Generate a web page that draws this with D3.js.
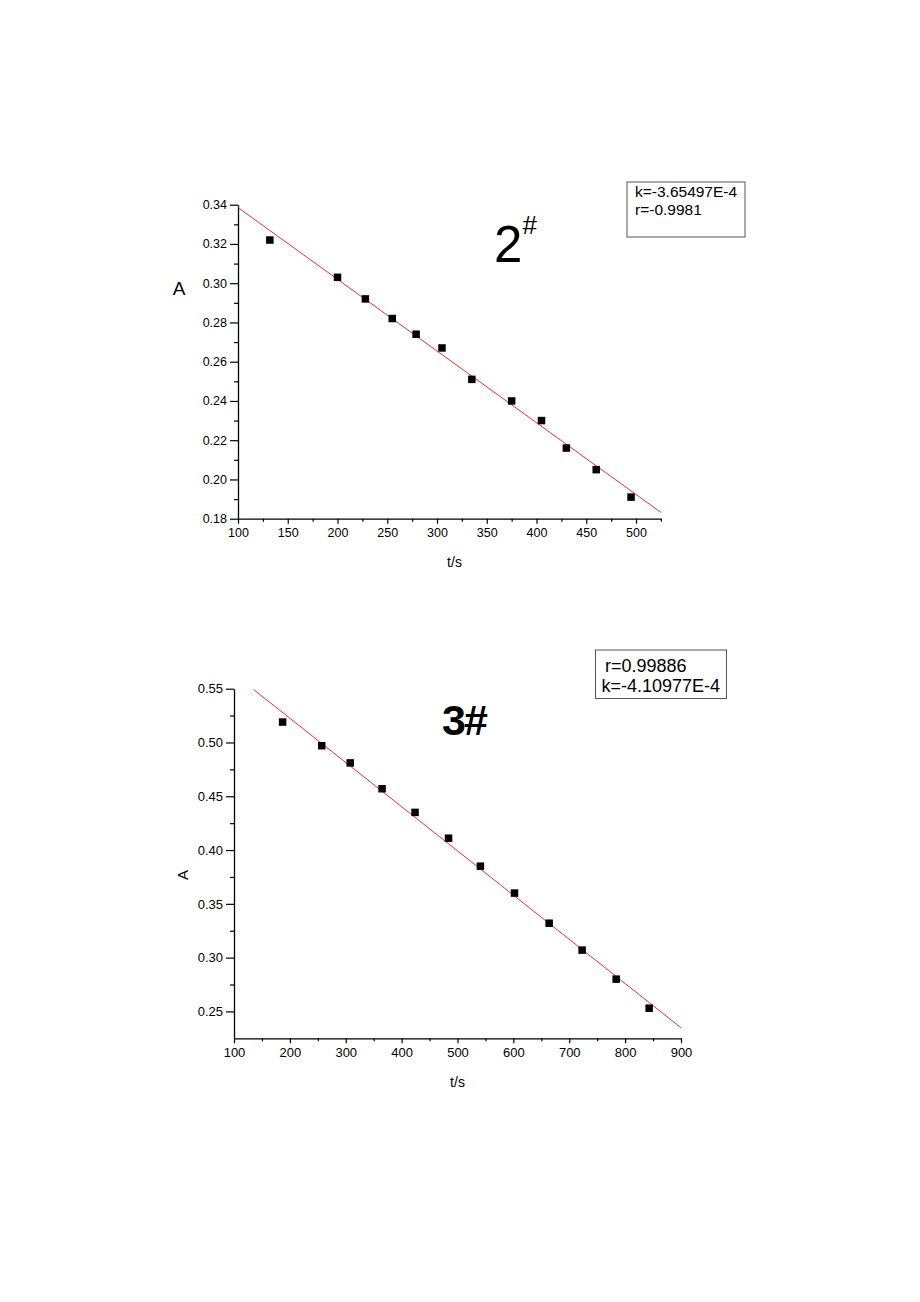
<!DOCTYPE html>
<html>
<head>
<meta charset="utf-8">
<script src="https://cdn.jsdelivr.net/npm/d3@7"></script>
<style>
  html, body { margin: 0; padding: 0; background: #fff; }
  svg { display: block; }
  text { font-family: "Liberation Sans", Arial, Helvetica, sans-serif; fill: #000; }
</style>
</head>
<body>
<svg id="chart" width="920" height="1302"></svg>
<script>
// ---------- Data: chart 2# ----------
const t2 = [132, 200, 228, 255, 279, 305, 335, 375, 405, 430, 460, 495];
const A2 = [0.322, 0.303, 0.292, 0.282, 0.274, 0.267, 0.251, 0.240, 0.230, 0.216, 0.205, 0.191];
const fit2 = { k: -3.65497e-4, b: 0.3751, from: 100, to: 525 };
const legend2 = ["k=-3.65497E-4", "r=-0.9981"];
const xTicks2 = [100, 150, 200, 250, 300, 350, 400, 450, 500];
const yTicks2 = [0.18, 0.20, 0.22, 0.24, 0.26, 0.28, 0.30, 0.32, 0.34];

// ---------- Data: chart 3# ----------
const t3 = [187, 257, 308, 365, 424, 484, 541, 602, 664, 723, 784, 843];
const A3 = [0.519, 0.497, 0.481, 0.457, 0.435, 0.411, 0.385, 0.360, 0.332, 0.307, 0.280, 0.253];
const fit3 = { k: -4.10977e-4, b: 0.6047, from: 135, to: 900 };
const legend3 = ["r=0.99886", "k=-4.10977E-4"];
const xTicks3 = [100, 200, 300, 400, 500, 600, 700, 800, 900];
const yTicks3 = [0.25, 0.30, 0.35, 0.40, 0.45, 0.50, 0.55];

const svg = d3.select("#chart");

function drawPanel(cfg) {
  const g = svg.append("g");
  const x = d3.scaleLinear().domain(cfg.xDomain).range(cfg.xRange);
  const y = d3.scaleLinear().domain(cfg.yDomain).range(cfg.yRange);
  const x0 = cfg.xRange[0], y0 = cfg.yRange[0];

  // minor ticks
  g.append("g").attr("transform", `translate(${x0},0)`)
    .call(d3.axisLeft(y).tickValues(cfg.yMinor).tickSize(4).tickSizeOuter(0).tickFormat(""))
    .call(s => s.select(".domain").remove())
    .selectAll("line").attr("stroke", "#000").attr("stroke-width", 1.2);
  g.append("g").attr("transform", `translate(0,${y0})`)
    .call(d3.axisBottom(x).tickValues(cfg.xMinor).tickSize(3).tickSizeOuter(0).tickFormat(""))
    .call(s => s.select(".domain").remove())
    .selectAll("line").attr("stroke", "#000").attr("stroke-width", 1.2);

  // major axes
  const ya = g.append("g").attr("transform", `translate(${x0},0)`)
    .call(d3.axisLeft(y).tickValues(cfg.yTicks).tickSize(8).tickSizeOuter(0)
      .tickPadding(3).tickFormat(d3.format(".2f")));
  ya.select(".domain").attr("stroke", "#000").attr("stroke-width", 1.3);
  ya.selectAll(".tick line").attr("stroke", "#000").attr("stroke-width", 1.2);
  ya.selectAll(".tick text").attr("font-size", cfg.tickFont)
    .style("font-family", '"Liberation Sans", Arial, sans-serif').attr("fill", "#000");

  const xa = g.append("g").attr("transform", `translate(0,${y0})`)
    .call(d3.axisBottom(x).tickValues(cfg.xTicks).tickSize(5).tickSizeOuter(0)
      .tickPadding(4).tickFormat(d3.format("d")));
  xa.select(".domain").attr("stroke", "#000").attr("stroke-width", 1.3);
  xa.selectAll(".tick line").attr("stroke", "#000").attr("stroke-width", 1.2);
  xa.selectAll(".tick text").attr("font-size", cfg.tickFont)
    .style("font-family", '"Liberation Sans", Arial, sans-serif').attr("fill", "#000");

  // fit line
  const f = cfg.fit;
  g.append("line")
    .attr("x1", x(f.from)).attr("y1", y(f.k * f.from + f.b))
    .attr("x2", x(f.to)).attr("y2", y(f.k * f.to + f.b))
    .attr("stroke", "#ff2a2a").attr("stroke-width", 1);

  // points
  const s = cfg.marker;
  g.selectAll("rect.pt").data(cfg.t.map((t, i) => [t, cfg.A[i]]))
    .enter().append("rect").attr("class", "pt")
    .attr("x", d => x(d[0]) - s / 2).attr("y", d => y(d[1]) - s / 2)
    .attr("width", s).attr("height", s).attr("fill", "#000");

  // axis titles
  g.append("text").attr("x", cfg.xTitle[0]).attr("y", cfg.xTitle[1])
    .attr("text-anchor", "middle").attr("font-size", 14).text("t/s");
  const yt = g.append("text").attr("text-anchor", "middle")
    .attr("font-size", cfg.yTitleFont).text("A");
  if (cfg.yTitleRotate) {
    yt.attr("transform", `translate(${cfg.yTitle[0]},${cfg.yTitle[1]}) rotate(-90)`);
  } else {
    yt.attr("x", cfg.yTitle[0]).attr("y", cfg.yTitle[1]);
  }

  // legend box
  const lb = cfg.legendBox;
  g.append("rect").attr("x", lb[0]).attr("y", lb[1]).attr("width", lb[2]).attr("height", lb[3])
    .attr("fill", "#fff").attr("stroke", "#555").attr("stroke-width", 1);
  cfg.legend.forEach((txt, i) => {
    g.append("text").attr("x", cfg.legendText[i][0]).attr("y", cfg.legendText[i][1])
      .attr("font-size", cfg.legendFont).text(txt);
  });
  return g;
}

function minorRange(a, b, step) {
  const out = [];
  const n = Math.round((b - a) / step);
  for (let i = 0; i <= n; i++) out.push(+(a + i * step).toFixed(4));
  return out;
}

// Panel 1 (2#)
const p1 = drawPanel({
  t: t2, A: A2, fit: fit2, legend: legend2,
  xDomain: [100, 525], xRange: [238, 660.9],
  yDomain: [0.18, 0.34], yRange: [518.7, 204.7],
  xTicks: xTicks2, yTicks: yTicks2,
  xMinor: minorRange(125, 525, 50), yMinor: minorRange(0.19, 0.33, 0.02),
  tickFont: 12.5, marker: 7.5,
  xTitle: [454.5, 567], yTitle: [179, 295], yTitleFont: 19, yTitleRotate: false,
  legendBox: [627, 182, 118, 55], legendText: [[635, 196.5], [635, 215]], legendFont: 15.5
});
// title 2#
const tt1 = p1.append("text").attr("x", 494).attr("y", 261.5).attr("font-size", 51);
tt1.append("tspan").text("2");
tt1.append("tspan").attr("font-size", 26).attr("dy", -28).text("#");

// Panel 2 (3#)
const p2 = drawPanel({
  t: t3, A: A3, fit: fit3, legend: legend3,
  xDomain: [100, 900], xRange: [234, 681],
  yDomain: [0.225, 0.55], yRange: [1038.3, 688.7],
  xTicks: xTicks3, yTicks: yTicks3,
  xMinor: minorRange(150, 850, 100), yMinor: minorRange(0.275, 0.525, 0.05),
  tickFont: 13, marker: 7.5,
  xTitle: [457.5, 1087], yTitle: [188, 875], yTitleFont: 15, yTitleRotate: true,
  legendBox: [595.5, 650, 131, 48.5], legendText: [[605, 671.5], [601.5, 691.5]], legendFont: 18
});
// title 3#
p2.append("text").attr("x", 442).attr("y", 735).attr("font-size", 43)
  .attr("font-weight", "bold").attr("letter-spacing", -2).text("3#");
</script>
</body>
</html>
